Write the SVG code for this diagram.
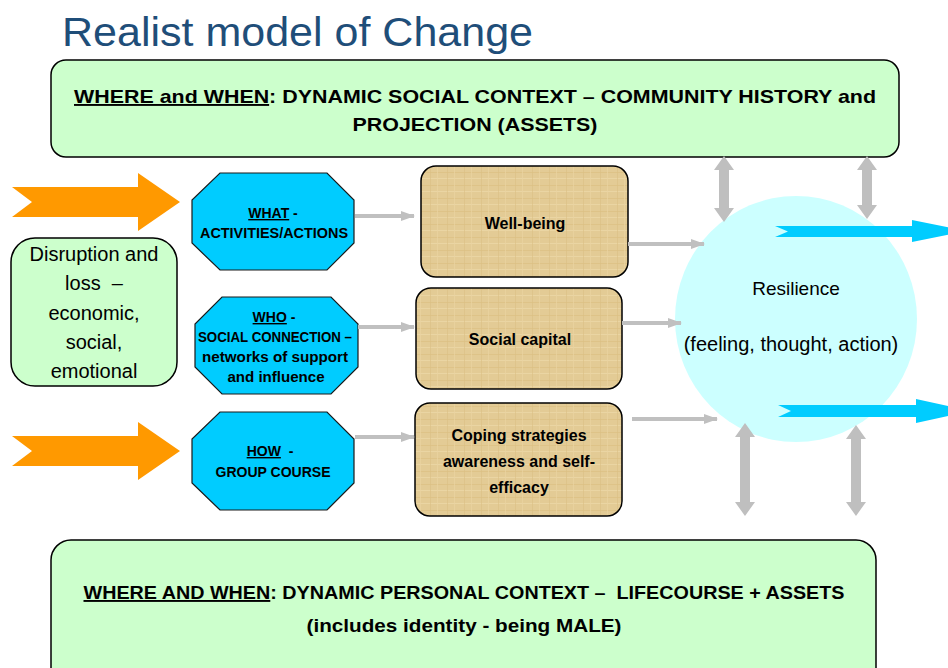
<svg xmlns="http://www.w3.org/2000/svg" width="948" height="668" viewBox="0 0 948 668">
<defs>
<style>
.ctx{fill:#ccffcc;stroke:#000;stroke-width:1.5}
.oct{fill:#00ccff;stroke:#1a1a1a;stroke-width:1.2}
.tan{fill:url(#papyrus);stroke:#000;stroke-width:1.5}
.b{font-family:"Liberation Sans",Arial,sans-serif;font-weight:bold;fill:#000}
.r{font-family:"Liberation Sans",Arial,sans-serif;fill:#000}
.conn{stroke:#c0c0c0;stroke-width:4;fill:none}
.gray{fill:#bfbfbf}
.orange{fill:#ff9900}
.cyan{fill:#00ccff}
</style>
<pattern id="papyrus" patternUnits="userSpaceOnUse" width="17" height="13">
<rect width="17" height="13" fill="#e3cb95"/>
<rect x="0" y="3" width="17" height="1" fill="#dcc084" opacity="0.7"/>
<rect x="0" y="9" width="17" height="1" fill="#ecd7a6" opacity="0.8"/>
<rect x="5" y="0" width="1" height="13" fill="#dbbf83" opacity="0.6"/>
<rect x="12" y="0" width="1" height="13" fill="#ead3a1" opacity="0.7"/>
</pattern>
<marker id="ah" markerUnits="userSpaceOnUse" markerWidth="14" markerHeight="10" refX="13" refY="5" orient="auto">
<path d="M0,0 L14,5 L0,10 Z" fill="#c0c0c0"/>
</marker>
</defs>

<text x="62" y="46" font-family="Liberation Sans,Arial,sans-serif" font-size="40" fill="#1f4e79" textLength="471" lengthAdjust="spacingAndGlyphs">Realist model of Change</text>

<g id="top-context">
<rect class="ctx" x="51" y="60" width="848" height="97" rx="15"/>
<text class="b" x="475" y="103" font-size="19" text-anchor="middle" textLength="802" lengthAdjust="spacingAndGlyphs"><tspan text-decoration="underline">WHERE and WHEN</tspan>: DYNAMIC SOCIAL CONTEXT – COMMUNITY HISTORY and</text>
<text class="b" x="475" y="131" font-size="19" text-anchor="middle" textLength="245" lengthAdjust="spacingAndGlyphs">PROJECTION (ASSETS)</text>
</g>

<g id="bottom-context">
<rect class="ctx" x="51" y="540" width="825" height="160" rx="20"/>
<text class="b" x="464" y="599" font-size="19" text-anchor="middle" textLength="761" lengthAdjust="spacingAndGlyphs" xml:space="preserve"><tspan text-decoration="underline">WHERE AND WHEN</tspan>: DYNAMIC PERSONAL CONTEXT –  LIFECOURSE + ASSETS</text>
<text class="b" x="464" y="632" font-size="19" text-anchor="middle" textLength="315" lengthAdjust="spacingAndGlyphs">(includes identity - being MALE)</text>
</g>

<g id="resilience">
<ellipse cx="796" cy="319" rx="121" ry="123" fill="#ccffff"/>
<text class="r" x="796" y="295" font-size="19" text-anchor="middle">Resilience</text>
<text class="r" x="791" y="351" font-size="20" text-anchor="middle">(feeling, thought, action)</text>
</g>

<g id="input-arrows">
<polygon class="orange" points="12,187 138,187 138,173 180,202 138,231 138,217 12,217 32,202"/>
<polygon class="orange" points="12,436 138,436 138,422 180,451 138,480 138,466 12,466 32,451"/>
</g>

<g id="disruption">
<rect class="ctx" x="11" y="238" width="166" height="148" rx="24"/>
<text class="r" x="94" y="261" font-size="20" text-anchor="middle">Disruption and</text>
<text class="r" x="94" y="290" font-size="20" text-anchor="middle" xml:space="preserve">loss  –</text>
<text class="r" x="94" y="320" font-size="20" text-anchor="middle">economic,</text>
<text class="r" x="94" y="349" font-size="20" text-anchor="middle">social,</text>
<text class="r" x="94" y="378" font-size="20" text-anchor="middle">emotional</text>
</g>

<g id="what">
<polygon class="oct" points="220,173 327,173 354,200 354,243 327,270 220,270 192,243 192,200"/>
<text class="b" x="273" y="218" font-size="14" text-anchor="middle"><tspan text-decoration="underline">WHAT</tspan> -</text>
<text class="b" x="274" y="238" font-size="14" text-anchor="middle" textLength="148" lengthAdjust="spacingAndGlyphs">ACTIVITIES/ACTIONS</text>
</g>

<g id="who">
<polygon class="oct" points="222,297 331,297 358,324 358,367 331,394 222,394 195,367 195,324"/>
<text class="b" x="274" y="322" font-size="14" text-anchor="middle"><tspan text-decoration="underline">WHO</tspan> -</text>
<text class="b" x="275" y="342" font-size="14" text-anchor="middle" textLength="154" lengthAdjust="spacingAndGlyphs">SOCIAL CONNECTION –</text>
<text class="b" x="275" y="362" font-size="14" text-anchor="middle" textLength="146" lengthAdjust="spacingAndGlyphs">networks of support</text>
<text class="b" x="276" y="382" font-size="14" text-anchor="middle" textLength="97" lengthAdjust="spacingAndGlyphs">and influence</text>
</g>

<g id="how">
<polygon class="oct" points="220,412 327,412 354,439 354,483 327,510 220,510 192,483 192,439"/>
<text class="b" x="270" y="456" font-size="14" text-anchor="middle" xml:space="preserve"><tspan text-decoration="underline">HOW</tspan>  -</text>
<text class="b" x="273" y="477" font-size="14" text-anchor="middle" textLength="115" lengthAdjust="spacingAndGlyphs">GROUP COURSE</text>
</g>

<g id="wellbeing">
<rect class="tan" x="421" y="166" width="207" height="111" rx="15"/>
<text class="b" x="525" y="229" font-size="16" text-anchor="middle">Well-being</text>
</g>

<g id="social-capital">
<rect class="tan" x="416" y="288" width="206" height="101" rx="15"/>
<text class="b" x="520" y="345" font-size="16" text-anchor="middle">Social capital</text>
</g>

<g id="coping">
<rect class="tan" x="415" y="403" width="207" height="113" rx="15"/>
<text class="b" x="519" y="441" font-size="16" text-anchor="middle">Coping strategies</text>
<text class="b" x="519" y="467" font-size="16" text-anchor="middle">awareness and self-</text>
<text class="b" x="519" y="493" font-size="16" text-anchor="middle">efficacy</text>
</g>

<g id="connectors">
<line class="conn" x1="355" y1="216" x2="414" y2="216" marker-end="url(#ah)"/>
<line class="conn" x1="358" y1="327" x2="414" y2="327" marker-end="url(#ah)"/>
<line class="conn" x1="355" y1="437" x2="414" y2="437" marker-end="url(#ah)"/>
<line class="conn" x1="628" y1="244" x2="704" y2="244" marker-end="url(#ah)"/>
<line class="conn" x1="622" y1="323" x2="681" y2="323" marker-end="url(#ah)"/>
<line class="conn" x1="632" y1="419" x2="717" y2="419" marker-end="url(#ah)"/>
<polygon class="gray" points="724,156 734,170 729,170 729,208 734,208 724,222 714,208 719,208 719,170 714,170"/>
<polygon class="gray" points="867,156 877,170 872,170 872,205 877,205 867,219 857,205 862,205 862,170 857,170"/>
<polygon class="gray" points="745,423 755,437 750,437 750,502 755,502 745,516 735,502 740,502 740,437 735,437"/>
<polygon class="gray" points="856,425 866,439 861,439 861,502 866,502 856,516 846,502 851,502 851,439 846,439"/>
<polygon class="cyan" points="775,226 912,226 912,220 966,231 912,242 912,237 775,237 788,231.5"/>
<polygon class="cyan" points="778,405 916,405 916,399 970,411 916,423 916,417 778,417 791,411"/>
</g>
</svg>
